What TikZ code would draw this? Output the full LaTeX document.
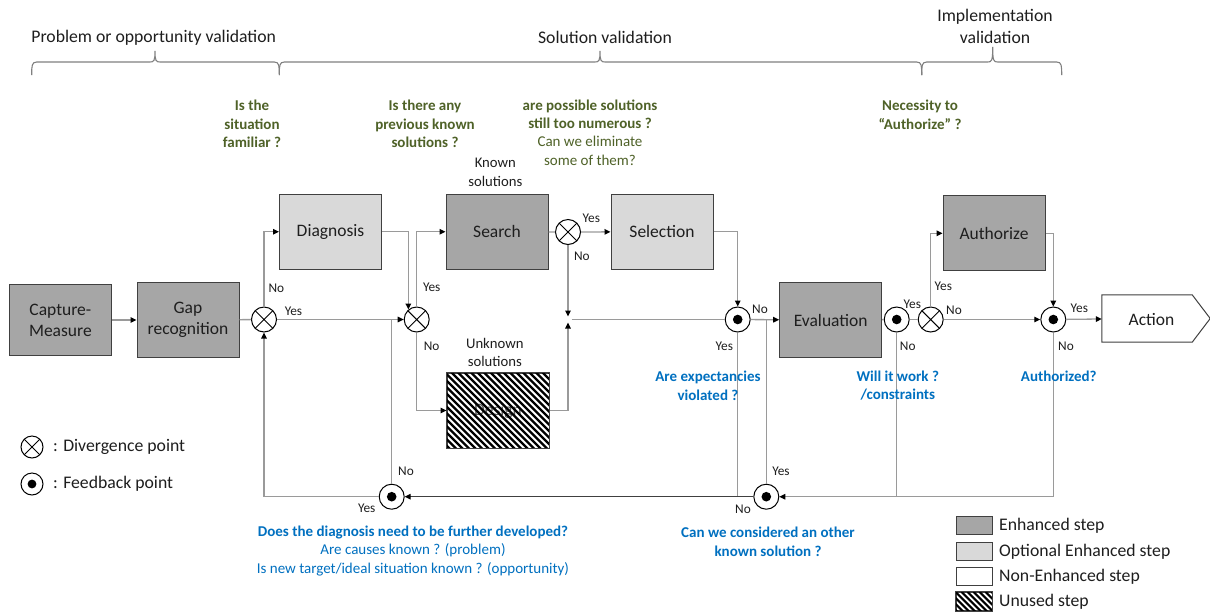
\documentclass[tikz,border=0pt]{standalone}
\usepackage{fontspec}
\setmainfont{Carlito}
\usetikzlibrary{arrows.meta,calc}
\definecolor{qgreen}{HTML}{4F6228}
\definecolor{qblue}{HTML}{0070C0}
\definecolor{linegray}{HTML}{9A9A9A}
\definecolor{boxgray}{HTML}{404040}
\definecolor{enhgray}{HTML}{A6A6A6}
\definecolor{optgray}{HTML}{D9D9D9}
\definecolor{bracegray}{HTML}{808080}
\definecolor{txt}{HTML}{1E1E1E}
\newcommand\fsbox{\fontsize{17.5}{21.2}\selectfont}
\newcommand\fslab{\fontsize{13.3}{15}\selectfont}
\newcommand\fsq{\fontsize{15}{18.4}\selectfont}
\newcommand\fshead{\fontsize{17.7}{21.2}\selectfont}
\newcommand\fssol{\fontsize{14.7}{18.4}\selectfont}
\newcommand\mybrace[4]{%
  \draw[bracegray, line width=1.1pt] (#1,75) .. controls (#1,66) and (#1,62) .. (#1+5,62)
    -- (#2-5,62) .. controls (#2-1,62) and (#2,61) .. (#2,#4)
    .. controls (#2,61) and (#2+1,62) .. (#2+5,62)
    -- (#3-5,62) .. controls (#3,62) and (#3,66) .. (#3,75);}
\begin{document}
\begin{tikzpicture}[x=1pt,y=-1pt,
  stepbox/.style={draw=boxgray, line width=1pt, minimum width=102pt, minimum height=75pt, inner sep=0pt, font=\fsbox, text=txt, align=center},
  enh/.style={stepbox, fill=enhgray},
  opt/.style={stepbox, fill=optgray},
  conn/.style={draw=linegray, line width=1.3pt},
  arr/.style={conn, -{Triangle[length=6pt,width=5.5pt,color=black]}},
  divpt/.style={circle, draw=black, fill=white, line width=1pt, minimum size=25pt, inner sep=0pt,
    path picture={\draw[line width=1pt] (path picture bounding box.north west) -- (path picture bounding box.south east)
      (path picture bounding box.north east) -- (path picture bounding box.south west);}},
  fbpt/.style={circle, draw=black, fill=white, line width=1pt, minimum size=25pt, inner sep=0pt,
    path picture={\fill[black] (path picture bounding box.center) circle (4.8pt);}},
  yn/.style={font=\fslab, text=txt, inner sep=0pt},
  qg/.style={font=\fsq, text=qgreen, align=center, inner sep=0pt},
  qb/.style={font=\fsq, text=qblue, align=center, inner sep=0pt},
  head/.style={font=\fshead, text=txt, align=center, inner sep=0pt},
  sol/.style={font=\fssol, text=txt, align=center, inner sep=0pt},
  legbox/.style={draw=boxgray, line width=1pt, minimum width=36pt, minimum height=18.5pt, inner sep=0pt},
  legtxt/.style={font=\fshead, text=txt, anchor=west, inner sep=0pt}
]
\useasboundingbox (0,0) rectangle (1210,614);
\fill[white] (0,0) rectangle (1210,614);

% phase headers and braces
\node[head] (hprob) at (153.7,37.7) {Problem or opportunity validation};
\node[head] (hsol) at (605,37.7) {Solution validation};
\node[head] (himp) at (995,26.5) {Implementation\\validation};
\mybrace{31.7}{155}{279.3}{51}
\mybrace{279.3}{600}{921.7}{51}
\mybrace{921.7}{992.7}{1061.7}{47}

% questions (green)
\node[qg] (q1) at (252,123.8) {\textbf{Is the}\\\textbf{situation}\\\textbf{familiar ?}};
\node[qg] (q2) at (425,123.8) {\textbf{Is there any}\\\textbf{previous known}\\\textbf{solutions ?}};
\node[qg] (q3) at (590,132.5) {\textbf{are possible solutions}\\\textbf{still too numerous ?}\\Can we eliminate\\some of them?};
\node[qg] (q4) at (920,114.7) {\textbf{Necessity to}\\\textbf{“Authorize” ?}};
\node[sol] (ks) at (495.3,172.5) {Known\\solutions};
\node[sol] (us) at (494.8,352.5) {Unknown\\solutions};

% steps
\node[enh, minimum height=71.3pt, minimum width=102.5pt] (cap) at (60.4,320) {Capture-\\Measure};
\node[enh] (gap) at (188,320) {Gap\\recognition};
\node[divpt] (x1) at (264,319.5) {};
\node[opt] (diag) at (330.5,231.7) {Diagnosis};
\node[divpt] (x3) at (416.7,319.5) {};
\node[enh] (search) at (497,231.7) {Search};
\node[divpt] (x2) at (568,232) {};
\node[opt] (sel) at (662,231.7) {Selection};
\node[stepbox, fill=white, text=black!65] (design) at (498,410.5) {Design};
\begin{scope}
  \clip (design.north west) rectangle (design.south east);
  \foreach \i in {-112,-105.5,...,112} \draw[line width=2.3pt] ([xshift=\i pt]design.north west) -- ++(120,120);
\end{scope}
\draw[boxgray, line width=1pt] (design.north west) rectangle (design.south east);
\coordinate (mtop) at (568,316.5);
\coordinate (mbot) at (568,322.5);
\coordinate (mright) at (571.5,319.5);
\node[fbpt] (f1) at (737.7,319.5) {};
\node[enh] (eval) at (830.7,320) {Evaluation};
\node[fbpt] (f2) at (896.7,319.5) {};
\node[divpt] (x4) at (930.7,319.5) {};
\node[enh] (auth) at (994,233.3) {Authorize};
\node[fbpt] (f3) at (1053.3,319.5) {};
\node[inner sep=0pt, minimum width=90pt, minimum height=47pt] (action) at (1147,318.5) {};
\draw[draw=boxgray, line width=1pt, fill=white] (action.north west) -- (action.north east) -- ($(action.east)+(18,0)$) -- (action.south east) -- (action.south west) -- cycle;
\node[font=\fsbox, text=txt] (actiontxt) at (1151.5,319.5) {Action};
\node[fbpt] (f4) at (766.3,496.7) {};
\node[fbpt] (f5) at (391.7,496.7) {};

% connectors
\draw[arr] (cap) -- (gap);
\draw[conn] (gap) -- (x1);
\draw[arr] (x1.north) |- (diag.west);
\draw[arr] (x1) -- (x3);
\draw[arr] (diag.east) -| (x3.130);
\draw[arr] (x3.north) |- (search.west);
\draw[arr] (x3.south) |- (design.west);
\draw[conn] (search) -- (x2);
\draw[arr] (x2) -- (sel);
\draw[arr] (x2.south) -- (mtop);
\draw[arr] (design.east) -| (mbot);
\draw[conn] (mright) -- (f1);
\draw[arr] (sel.east) -| (f1.north);
\draw[arr] (f1) -- (eval);
\draw[conn] (f1.south) -- (f1 |- f4);
\draw[conn] (eval) -- (f2);
\draw[conn] (f2) -- (x4);
\draw[arr] (x4.north) |- (auth.west);
\draw[arr] (x4) -- (f3);
\draw[arr] (auth.east) -| (f3.north);
\draw[arr] (f3) -- (action);
\draw[arr] (f3.south) |- (f4.east);
\draw[conn] (f2.south) -- (f2 |- f4);
\draw[conn] (f4.north) -- (f4 |- f1);
\draw[arr, draw=black!75] (f4.west) -- (f5.east);
\draw[conn] (f5.north) -- (f5 |- x1);
\draw[arr] (f5.west) -| (x1.south);

% yes / no labels
\node[yn] (l1) at (276.3,288.3) {No};
\node[yn] (l2) at (293.5,311) {Yes};
\node[yn] (l3) at (431.7,287.3) {Yes};
\node[yn] (l4) at (431.7,346.7) {No};
\node[yn] (l5) at (591.3,218.3) {Yes};
\node[yn] (l6) at (581.9,256) {No};
\node[yn] (l7) at (760,309.3) {No};
\node[yn] (l8) at (724.3,346.7) {Yes};
\node[yn] (l9) at (912.3,304) {Yes};
\node[yn] (l10) at (943.3,286.7) {Yes};
\node[yn] (l11) at (954,310) {No};
\node[yn] (l12) at (907.7,346.7) {No};
\node[yn] (l13) at (1079.3,308.3) {Yes};
\node[yn] (l14) at (1066,346.7) {No};
\node[yn] (l15) at (781,471) {Yes};
\node[yn] (l16) at (743,509.3) {No};
\node[yn] (l17) at (406,471) {No};
\node[yn] (l18) at (366.7,508.5) {Yes};

% questions (blue)
\node[qb] (b1) at (708,385.8) {\textbf{Are expectancies}\\\textbf{violated ?}};
\node[qb] (b2) at (897.8,385.8) {\textbf{Will it work ?}\\\textbf{/constraints}};
\node[qb] (b3) at (1058.8,376.7) {\textbf{Authorized?}};
\node[qb] (b4) at (413,551) {\textbf{Does the diagnosis need to be further developed?}\\Are causes known ? (problem)\\Is new target/ideal situation known ? (opportunity)};
\node[qb] (b5) at (768,541.8) {\textbf{Can we considered an other}\\\textbf{known solution ?}};

% legend left
\node[divpt, minimum size=22pt] (lgd) at (32,447) {};
\node[legtxt] (lgdt) at (53,447) {: Divergence point};
\node[fbpt, minimum size=22pt, path picture={\fill[black] (path picture bounding box.center) circle (4.4pt);}] (lgf) at (32,484) {};
\node[legtxt] (lgft) at (53,484) {: Feedback point};

% legend right
\node[legbox, fill=enhgray] (le1) at (974,525.3) {};
\node[legtxt] (le1t) at (999,525.3) {Enhanced step};
\node[legbox, fill=optgray] (le2) at (974,551.3) {};
\node[legtxt] (le2t) at (999,551.3) {Optional Enhanced step};
\node[legbox, fill=white] (le3) at (974,576.7) {};
\node[legtxt] (le3t) at (999,576.7) {Non-Enhanced step};
\node[legbox, fill=white] (le4) at (974,601.7) {};
\begin{scope}
  \clip (le4.north west) rectangle (le4.south east);
  \foreach \i in {-30,-24,...,42} \draw[line width=2.1pt] ([xshift=\i pt]le4.north west) -- ++(30,30);
\end{scope}
\draw[boxgray, line width=1pt] (le4.north west) rectangle (le4.south east);
\node[legtxt] (le4t) at (999,601.7) {Unused step};
\end{tikzpicture}
\end{document}
